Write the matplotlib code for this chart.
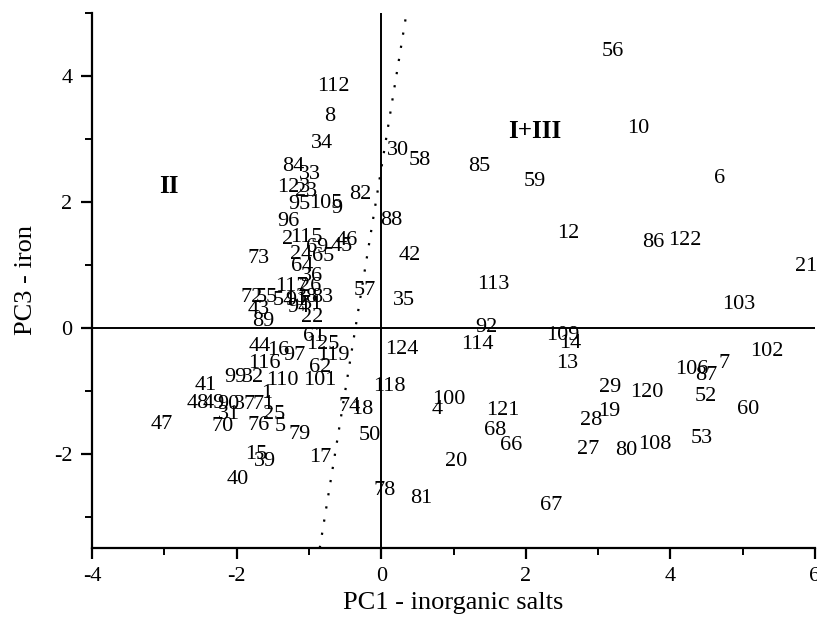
import matplotlib
matplotlib.use("Agg")
import matplotlib.pyplot as plt
from matplotlib.ticker import MultipleLocator

plt.rcParams['font.family'] = ['Liberation Serif', 'DejaVu Serif']
plt.rcParams['axes.unicode_minus'] = False

# sample numbers and their scores on PC1 / PC3
sample_ids = [
    112, 8, 34, 84, 33, 123, 23, 95, 105, 9, 82, 30, 58, 88, 96, 2, 115, 69, 45, 46,
    24, 65, 64, 36, 73, 42, 57, 35, 117, 26, 72, 55, 54, 91, 38, 83, 94, 51, 43, 89,
    22, 61, 125, 44, 16, 97, 119, 116, 62, 99, 32, 110, 101, 41, 48, 49, 90, 37, 71, 1,
    31, 70, 76, 25, 5, 79, 47, 15, 39, 40, 17, 74, 18, 50, 118, 124, 78, 81, 100, 4,
    121, 68, 66, 20, 67, 92, 114, 109, 14, 13, 113, 85, 59, 12, 56, 10, 6, 86, 122, 21,
    103, 102, 7, 106, 87, 29, 120, 52, 19, 28, 60, 27, 80, 108, 53,
]
pc1 = [
    -0.66, -0.71, -0.82, -1.22, -0.99, -1.21, -1.04, -1.13, -0.76, -0.62, -0.29, 0.23, 0.54, 0.14, -1.28, -1.29, -1.03, -0.89, -0.55, -0.47,
    -1.11, -0.81, -1.09, -0.96, -1.70, 0.40, -0.23, 0.32, -1.24, -0.98, -1.79, -1.58, -1.35, -1.17, -1.03, -0.81, -1.14, -0.96, -1.70, -1.63,
    -0.95, -0.93, -0.81, -1.68, -1.43, -1.20, -0.66, -1.61, -0.84, -2.02, -1.77, -1.37, -0.85, -2.43, -2.54, -2.31, -2.12, -1.88, -1.62, -1.58,
    -2.10, -2.20, -1.69, -1.48, -1.39, -1.13, -3.04, -1.73, -1.61, -1.99, -0.84, -0.43, -0.26, -0.16, 0.11, 0.29, 0.05, 0.55, 0.93, 0.77,
    1.68, 1.58, 1.79, 1.04, 2.35, 1.46, 1.33, 2.51, 2.61, 2.57, 1.55, 1.36, 2.13, 2.58, 3.20, 3.56, 4.68, 3.76, 4.20, 5.87,
    4.95, 5.33, 4.74, 4.30, 4.49, 3.17, 3.67, 4.49, 3.15, 2.91, 5.08, 2.86, 3.39, 3.78, 4.44,
]
pc3 = [
    3.83, 3.35, 2.92, 2.56, 2.44, 2.22, 2.17, 1.95, 1.98, 1.90, 2.11, 2.81, 2.65, 1.71, 1.68, 1.40, 1.43, 1.27, 1.29, 1.38,
    1.16, 1.13, 0.97, 0.81, 1.10, 1.14, 0.59, 0.44, 0.65, 0.65, 0.48, 0.48, 0.44, 0.44, 0.48, 0.48, 0.32, 0.37, 0.29, 0.10,
    0.16, -0.14, -0.27, -0.30, -0.37, -0.44, -0.44, -0.57, -0.63, -0.79, -0.79, -0.84, -0.84, -0.92, -1.21, -1.21, -1.22, -1.22, -1.22, -1.05,
    -1.38, -1.57, -1.56, -1.38, -1.57, -1.70, -1.54, -2.02, -2.13, -2.41, -2.06, -1.25, -1.30, -1.71, -0.94, -0.35, -2.59, -2.71, -1.14, -1.30,
    -1.32, -1.63, -1.87, -2.13, -2.83, 0.00, -0.27, -0.13, -0.25, -0.57, 0.68, 2.56, 2.33, 1.49, 4.38, 3.16, 2.37, 1.35, 1.38, 0.97,
    0.37, -0.38, -0.57, -0.67, -0.76, -0.95, -1.03, -1.10, -1.33, -1.48, -1.30, -1.94, -1.95, -1.86, -1.76,
]

# dotted separation line between group II and groups I+III
split_x = [-0.85, 0.35]
split_y = [-3.5, 5.0]

group_names = ['II', 'I+III']
group_x = [-2.94, 2.12]
group_y = [2.24, 3.11]

fig = plt.figure(figsize=(8.17, 6.39), dpi=100)
ax = fig.add_axes([0.1126, 0.1424, 0.8850, 0.8373])

for sid, x, y in zip(sample_ids, pc1, pc3):
    ax.text(x, y, str(sid), ha='center', va='center', fontsize=16, color='black')

for name, x, y in zip(group_names, group_x, group_y):
    ax.text(x, y, name, ha='center', va='center', fontsize=18, fontweight='bold')

ax.axhline(0, color='black', lw=1.4)
ax.axvline(0, color='black', lw=1.4)
ax.plot(split_x, split_y, color='black', ls=(0, (1, 5)), lw=1.6)

ax.set_xlim(-4, 6)
ax.set_ylim(-3.5, 5)
ax.xaxis.set_major_locator(MultipleLocator(2))
ax.xaxis.set_minor_locator(MultipleLocator(1))
ax.yaxis.set_major_locator(MultipleLocator(2))
ax.yaxis.set_minor_locator(MultipleLocator(1))

ax.spines['top'].set_visible(False)
ax.spines['right'].set_visible(False)
ax.spines['left'].set_linewidth(1.6)
ax.spines['bottom'].set_linewidth(1.6)
ax.tick_params(which='major', direction='out', length=8, width=1.6, labelsize=16, pad=6)
ax.tick_params(which='minor', direction='out', length=5, width=1.4)

ax.set_xlabel('PC1 - inorganic salts', fontsize=19, labelpad=4)
ax.set_ylabel('PC3 - iron', fontsize=19, labelpad=12)

fig.savefig('out.png', dpi=100)
